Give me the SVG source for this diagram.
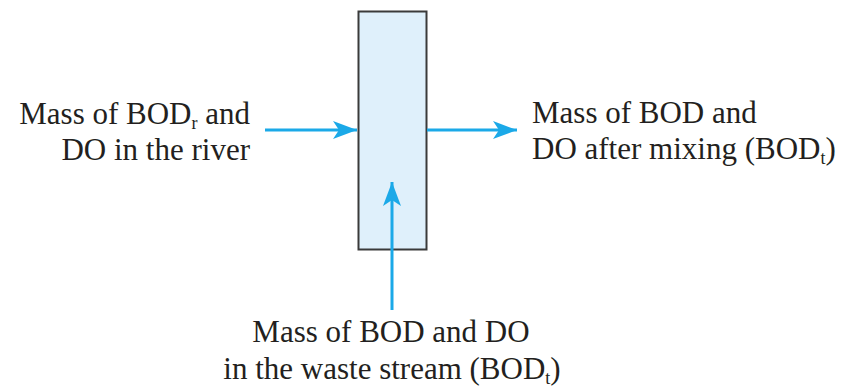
<svg xmlns="http://www.w3.org/2000/svg" width="845" height="390" viewBox="0 0 845 390">
<style>
text{font-family:"Liberation Serif","Times New Roman",serif;font-size:31px;fill:#231f20}
.c{stroke:#1ba9e8;stroke-width:3;fill:none}
.sub{font-size:18px}
</style>
<defs>
<marker id="ah" viewBox="0 0 24 18" refX="24" refY="9" markerWidth="24" markerHeight="18" markerUnits="userSpaceOnUse" orient="auto">
<path d="M0,0 L24,9 L0,18 L6,9 Z" fill="#1ba9e8"/>
</marker>
</defs>
<rect width="845" height="390" fill="#fff"/>
<g id="mixer">
<rect x="358.5" y="11.5" width="68" height="238" fill="#dff0fb" stroke="#3a3a3a" stroke-width="2"/>
</g>
<g id="connectors">
<path class="c" d="M265,130 H357" marker-end="url(#ah)"/>
<path class="c" d="M427,130 H517" marker-end="url(#ah)"/>
<path class="c" d="M392,310 V182" marker-end="url(#ah)"/>
</g>
<g id="river">
<text x="250" y="124" text-anchor="end">Mass of BOD<tspan class="sub" dy="5">r</tspan><tspan dy="-5"> and</tspan></text>
<text x="250" y="160" text-anchor="end">DO in the river</text>
</g>
<g id="mixed">
<text x="532" y="123">Mass of BOD and</text>
<text x="532" y="159">DO after mixing (BOD<tspan class="sub" dy="5">t</tspan><tspan dy="-5">)</tspan></text>
</g>
<g id="waste">
<text x="391" y="342" text-anchor="middle">Mass of BOD and DO</text>
<text x="392" y="379" text-anchor="middle">in the waste stream (BOD<tspan class="sub" dy="5">t</tspan><tspan dy="-5">)</tspan></text>
</g>
</svg>
